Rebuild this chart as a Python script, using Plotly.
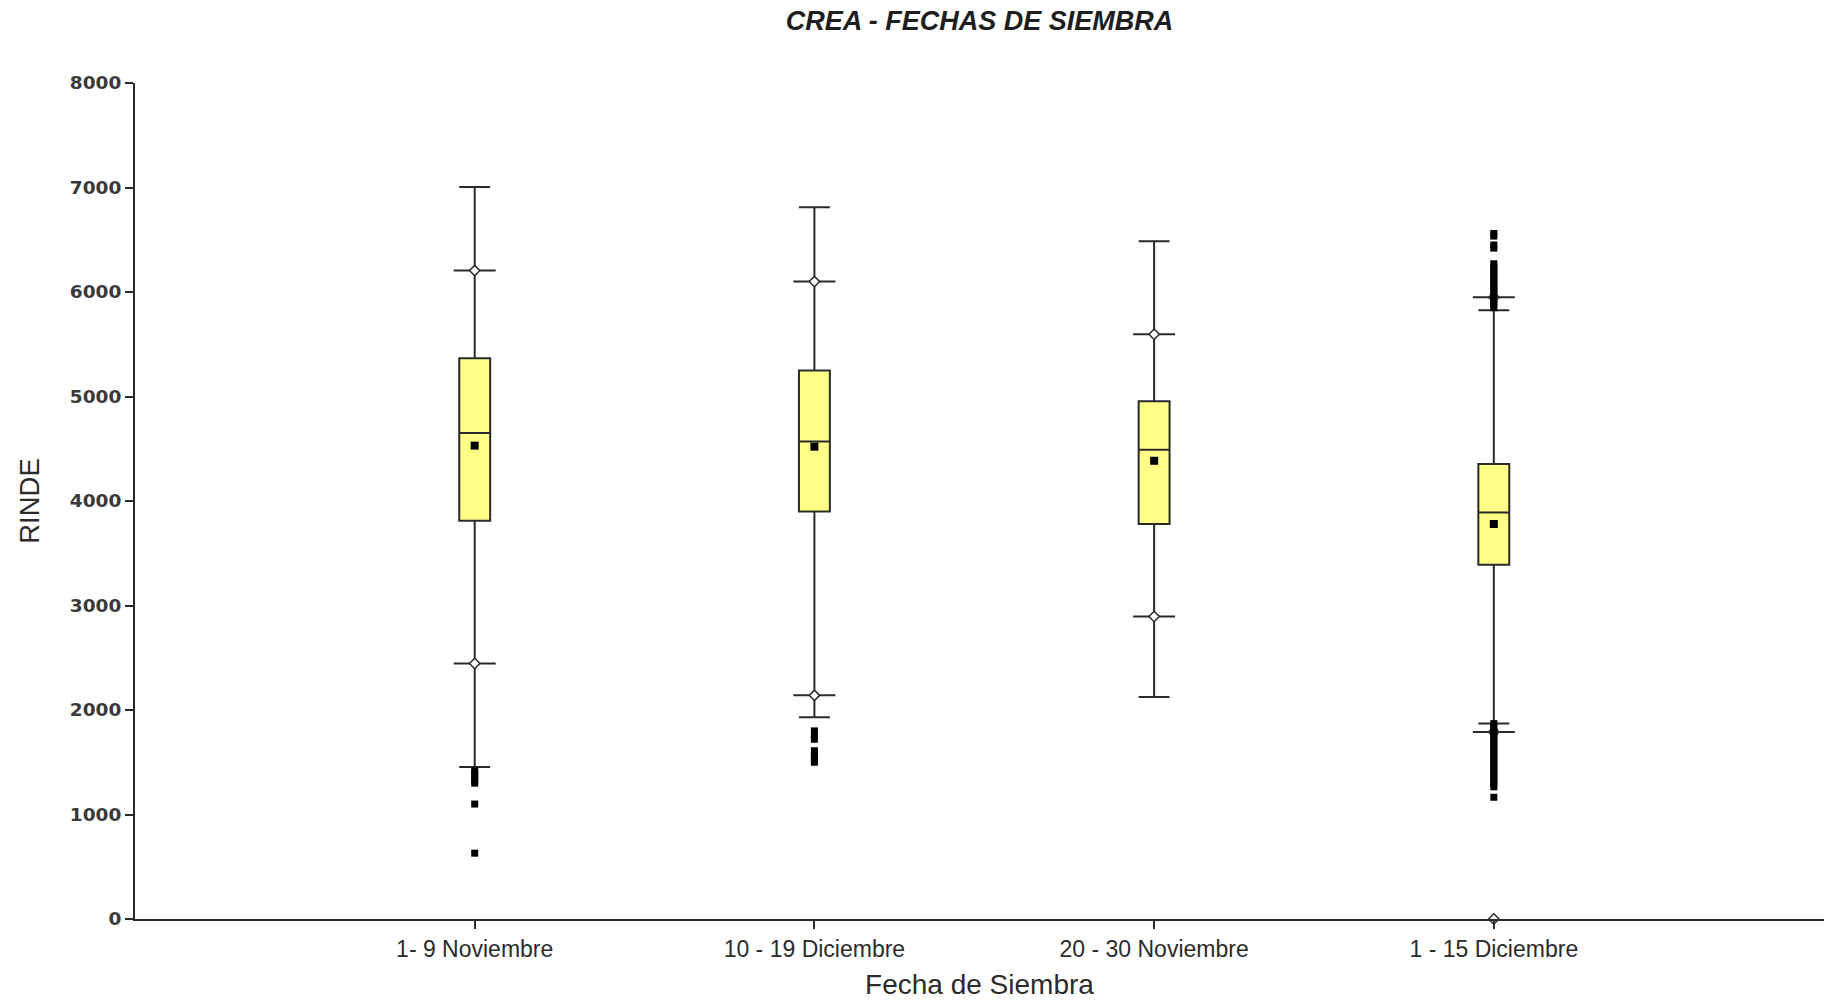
import plotly.graph_objects as go

# Sowing-date groups and their x positions
categories = ["1- 9 Noviembre", "10 - 19 Diciembre", "20 - 30 Noviembre", "1 - 15 Diciembre"]
positions = [1, 2, 3, 4]

# Box statistics (RINDE)
q1 = [3810, 3900, 3780, 3390]
median = [4650, 4570, 4490, 3890]
q3 = [5365, 5250, 4955, 4355]
lower_whisker = [1455, 1930, 2125, 1870]
upper_whisker = [7005, 6810, 6485, 5825]
means = [4530, 4520, 4385, 3780]

# Percentile markers (5th / 95th)
p05 = [2445, 2140, 2895, 1790]
p95 = [6205, 6100, 5595, 5950]

# Outlying observations per group
outliers_g1 = [1420, 1390, 1360, 1330, 1300, 1100, 630]
outliers_g2 = [1800, 1760, 1720, 1610, 1570, 1530, 1500]
outliers_g3 = []
outliers_g4 = [6560, 6535, 6450, 6420,
               6270, 6240, 6210, 6180, 6150, 6120, 6090, 6060, 6030, 6000,
               5970, 5940, 5910, 5880, 5850,
               1870, 1840, 1810, 1780, 1750, 1720, 1690, 1660, 1630, 1600,
               1570, 1540, 1510, 1480, 1450, 1420, 1390, 1360, 1330, 1300,
               1265, 1165]
extreme_g4 = [0]

LINE = "#2a2a2a"
FILL = "#ffff88"
TEXT = "#2b2b2b"
BOX_W = 0.091

fig = go.Figure()

fig.add_trace(go.Box(
    x=positions, q1=q1, median=median, q3=q3,
    lowerfence=lower_whisker, upperfence=upper_whisker,
    width=BOX_W, whiskerwidth=1, boxpoints=False,
    fillcolor=FILL, line=dict(color=LINE, width=2),
    showlegend=False,
))

# Percentile crossbars with small open diamonds
pct_x = positions + positions
pct_y = p05 + p95
fig.add_trace(go.Scatter(
    x=pct_x, y=pct_y, mode="markers", showlegend=False,
    marker=dict(symbol="line-ew", size=30, line=dict(color=LINE, width=2)),
))
fig.add_trace(go.Scatter(
    x=pct_x, y=pct_y, mode="markers", showlegend=False,
    marker=dict(symbol="diamond", size=8, color="white", line=dict(color=LINE, width=1.5)),
))

# Means
fig.add_trace(go.Scatter(
    x=positions, y=means, mode="markers", showlegend=False,
    marker=dict(symbol="square", size=8, color="black"),
))

# Outliers
out_groups = [outliers_g1, outliers_g2, outliers_g3, outliers_g4]
ox, oy = [], []
for pos, vals in zip(positions, out_groups):
    ox += [pos] * len(vals)
    oy += vals
fig.add_trace(go.Scatter(
    x=ox, y=oy, mode="markers", showlegend=False,
    marker=dict(symbol="square", size=7, color="black"),
))

# Extreme value drawn as open diamond
fig.add_trace(go.Scatter(
    x=[positions[3]] * len(extreme_g4), y=extreme_g4, mode="markers", showlegend=False,
    cliponaxis=False,
    marker=dict(symbol="diamond", size=8, color="white", line=dict(color=LINE, width=1.5)),
))

fig.update_layout(
    width=1824, height=1000,
    margin=dict(l=135, r=0, t=83, b=81),
    paper_bgcolor="white", plot_bgcolor="white",
    title=dict(
        text="<b><i>CREA - FECHAS DE SIEMBRA</i></b>",
        x=0.5, xref="paper", xanchor="center",
        y=0.979, yref="container", yanchor="middle",
        font=dict(family="Liberation Sans, Arial", size=27, color="#1e1e1e"),
    ),
    xaxis=dict(
        range=[0, 4.972], tickmode="array", tickvals=positions, ticktext=categories,
        showline=True, linecolor=LINE, linewidth=2,
        ticks="outside", ticklen=8, tickwidth=2, tickcolor=LINE,
        showgrid=False, zeroline=False,
        tickfont=dict(family="Liberation Sans, Arial", size=23, color=TEXT),
        title=dict(text="Fecha de Siembra", standoff=18,
                   font=dict(family="Liberation Sans, Arial", size=28, color=TEXT)),
    ),
    yaxis=dict(
        range=[0, 8000], tickmode="array", tickvals=list(range(0, 8001, 1000)),
        showline=True, linecolor=LINE, linewidth=2,
        ticks="outside", ticklen=8, tickwidth=2, tickcolor=LINE,
        showgrid=False, zeroline=False,
        tickfont=dict(family="DejaVu Sans", size=18.5, color="#3a3a3a", weight="bold"),
        title=dict(text="RINDE", standoff=22,
                   font=dict(family="Liberation Sans, Arial", size=27.5, color=TEXT)),
    ),
)

fig.write_html("out.html")
